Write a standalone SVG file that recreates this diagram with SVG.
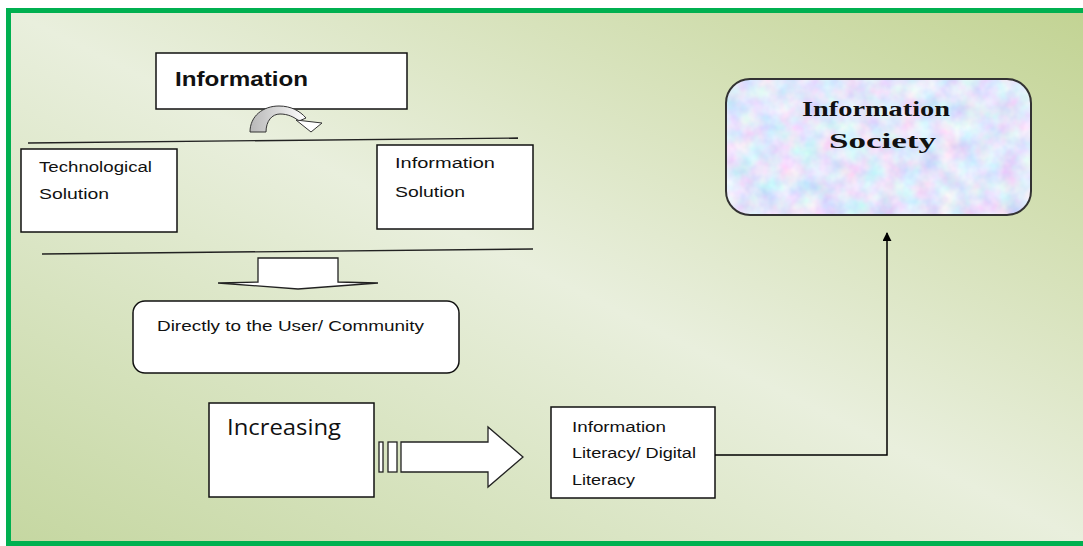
<svg xmlns="http://www.w3.org/2000/svg" width="1083" height="546" viewBox="0 0 1083 546">
<defs>
<linearGradient id="bg" x1="0" y1="1" x2="1" y2="0">
<stop offset="0" stop-color="#c5d7a1"/>
<stop offset="0.5" stop-color="#e9efdd"/>
<stop offset="1" stop-color="#c2d393"/>
</linearGradient>
<linearGradient id="curve" x1="0" y1="0" x2="1" y2="0">
<stop offset="0" stop-color="#b8b8b8"/>
<stop offset="0.6" stop-color="#e0e0e0"/>
<stop offset="1" stop-color="#ffffff"/>
</linearGradient>
<filter id="tex" x="0" y="0" width="1" height="1">
<feTurbulence type="fractalNoise" baseFrequency="0.05" numOctaves="3" seed="7" result="n"/>
<feColorMatrix in="n" type="matrix" values="0.6 0 0 0 0.46  0 0.5 0 0 0.55  0 0 0.2 0 0.86  0 0 0 0 1" result="c"/>
<feComposite in="c" in2="SourceGraphic" operator="in"/>
</filter>
<marker id="ah" viewBox="0 0 10 10" refX="9" refY="5" markerWidth="9" markerHeight="9" orient="auto" markerUnits="userSpaceOnUse">
<path d="M0,0 L10,5 L0,10 Z" fill="#000"/>
</marker>
<style>
.box{fill:#fff;stroke:#111;stroke-width:1.5}
.t{font-family:"Liberation Sans",Arial,sans-serif;font-size:15.5px;fill:#111}
.tb{font-family:"Liberation Sans",Arial,sans-serif;font-size:21px;font-weight:bold;fill:#111}
.ts{font-family:"Liberation Serif","Times New Roman",serif;font-size:22px;font-weight:bold;fill:#111}
.sep{stroke:#222;stroke-width:1.4;fill:none}
.conn{stroke:#000;stroke-width:1.5;fill:none}
.blk{fill:#fff;stroke:#222;stroke-width:1.3}
</style>
</defs>
<rect x="0" y="0" width="1083" height="546" fill="#fff"/>
<rect x="8.5" y="10.5" width="1080" height="533" fill="url(#bg)" stroke="#00b050" stroke-width="5"/>

<g id="separators">
<line class="sep" x1="28" y1="143" x2="518" y2="138"/>
<line class="sep" x1="42" y1="254" x2="533" y2="249"/>
</g>

<g id="node-information">
<rect class="box" x="156" y="53" width="251" height="56"/>
<text class="tb" x="175" y="86" textLength="133" lengthAdjust="spacingAndGlyphs">Information</text>
</g>

<g id="curved-arrow">
<path d="M250,132 C250,116 263,106 279,106 C291,106 300,111 306,118 L299,121 C294,117 288,114 280,114 C272,114 266,121 266,132 Z" fill="url(#curve)" stroke="#333" stroke-width="1"/>
<path d="M296,120 L322,123 L311,132 Z" fill="#fff" stroke="#333" stroke-width="1"/>
</g>

<g id="node-technological">
<rect class="box" x="21" y="149" width="156" height="83"/>
<text class="t" x="39" y="172" textLength="113" lengthAdjust="spacingAndGlyphs">Technological</text>
<text class="t" x="39" y="199" textLength="70" lengthAdjust="spacingAndGlyphs">Solution</text>
</g>

<g id="node-info-solution">
<rect class="box" x="377" y="145" width="156" height="84"/>
<text class="t" x="395" y="168" textLength="100" lengthAdjust="spacingAndGlyphs">Information</text>
<text class="t" x="395" y="197" textLength="70" lengthAdjust="spacingAndGlyphs">Solution</text>
</g>

<g id="down-arrow">
<path class="blk" d="M258,258 L338,258 L338,282 L378,283 L298,289 L218,283 L258,282 Z"/>
</g>

<g id="node-user">
<rect class="box" x="133" y="301" width="326" height="72" rx="12" ry="12"/>
<text class="t" x="157" y="331" textLength="267" lengthAdjust="spacingAndGlyphs">Directly to the User/ Community</text>
</g>

<g id="node-increasing">
<rect class="box" x="209" y="403" width="165" height="94"/>
<text x="227" y="435" font-family="'Open Sans','Liberation Sans',sans-serif" font-size="21" fill="#111" textLength="114" lengthAdjust="spacingAndGlyphs">Increasing</text>
</g>

<g id="block-arrow">
<rect class="blk" x="379" y="442" width="4" height="30"/>
<rect class="blk" x="388" y="442" width="9" height="30"/>
<path class="blk" d="M401,442 L488,442 L488,427 L523,457 L488,487 L488,472 L401,472 Z"/>
</g>

<g id="node-literacy">
<rect class="box" x="551" y="407" width="164" height="91"/>
<text class="t" x="572" y="432" textLength="94" lengthAdjust="spacingAndGlyphs">Information</text>
<text class="t" x="572" y="458" textLength="124" lengthAdjust="spacingAndGlyphs">Literacy/ Digital</text>
<text class="t" x="572" y="485" textLength="63" lengthAdjust="spacingAndGlyphs">Literacy</text>
</g>

<g id="node-society">
<rect x="726" y="79" width="305" height="136" rx="24" ry="24" fill="#c9d3f0" filter="url(#tex)"/>
<rect x="726" y="79" width="305" height="136" rx="24" ry="24" fill="none" stroke="#333" stroke-width="2"/>
<text class="ts" x="802" y="116" textLength="148" lengthAdjust="spacingAndGlyphs">Information</text>
<text class="ts" x="829" y="148" textLength="107" lengthAdjust="spacingAndGlyphs">Society</text>
</g>

<g id="connectors">
<path class="conn" d="M715,455 L887,455 L887,233" marker-end="url(#ah)"/>
</g>
</svg>
